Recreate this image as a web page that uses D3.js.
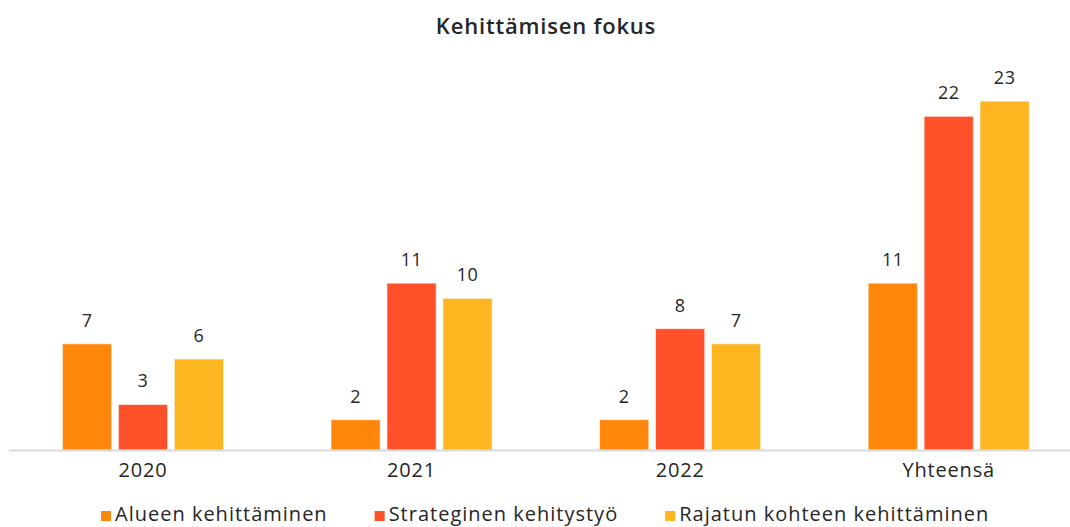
<!DOCTYPE html>
<html>
<head>
<meta charset="utf-8">
<script src="https://cdn.jsdelivr.net/npm/d3@7"></script>
<style>
  body { margin: 0; background: #fff; }
  text { font-family: "Open Sans", sans-serif; fill: #262626; }
</style>
</head>
<body>
<div id="chart"></div>
<script>
// Chart data
const categories = ['2020', '2021', '2022', 'Yhteensä'];
const seriesNames = ['Alueen kehittäminen', 'Strateginen kehitystyö', 'Rajatun kohteen kehittäminen'];
const alueen = [7, 2, 2, 11];
const strateginen = [3, 11, 8, 22];
const rajatun = [6, 10, 7, 23];
const seriesValues = [alueen, strateginen, rajatun];
const colors = ['#FF870B', '#FF5129', '#FDB61F'];

const width = 1070;
const height = 527;

const svg = d3.select('#chart')
  .append('svg')
  .attr('width', width)
  .attr('height', height);

// Title
svg.append('text')
  .attr('x', 546)
  .attr('y', 34)
  .attr('text-anchor', 'middle')
  .style('font-size', '22px')
  .style('font-weight', '600')
  .style('letter-spacing', '0.8px')
  .text('Kehittämisen fokus');

// Scales
const x0 = d3.scaleBand()
  .domain(categories)
  .range([8.7, 1083])
  .paddingInner(0.4)
  .paddingOuter(0.2);

const x1 = d3.scaleBand()
  .domain(seriesNames)
  .range([0, x0.bandwidth()])
  .paddingInner(0.12);

const y = d3.scaleLinear()
  .domain([0, 25])
  .range([450, 70.8]);

// Bars
const groups = svg.selectAll('.group')
  .data(categories)
  .enter()
  .append('g')
  .attr('class', 'group')
  .attr('transform', d => `translate(${x0(d)},0)`);

groups.selectAll('rect')
  .data((d, i) => seriesNames.map((s, j) => ({ s, j, v: seriesValues[j][i] })))
  .enter()
  .append('rect')
  .attr('x', d => x1(d.s))
  .attr('y', d => y(d.v))
  .attr('width', x1.bandwidth())
  .attr('height', d => y(0) - y(d.v))
  .attr('fill', d => colors[d.j])
  .attr('stroke', 'rgba(255,255,255,0.6)')
  .attr('stroke-width', 1);

// Value labels
groups.selectAll('.value-label')
  .data((d, i) => seriesNames.map((s, j) => ({ s, j, v: seriesValues[j][i] })))
  .enter()
  .append('text')
  .attr('class', 'value-label')
  .attr('x', d => x1(d.s) + x1.bandwidth() / 2)
  .attr('y', d => y(d.v) - 17)
  .attr('text-anchor', 'middle')
  .style('font-size', '18px')
  .style('letter-spacing', '0.5px')
  .text(d => d.v);

// X axis
const xAxis = svg.append('g')
  .attr('transform', `translate(0,${y(0)})`)
  .call(d3.axisBottom(x0).tickSize(0).tickSizeOuter(0));

xAxis.select('.domain')
  .attr('stroke', '#d9d9d9')
  .attr('stroke-width', 2);

xAxis.selectAll('text')
  .attr('dy', 0)
  .attr('y', 27)
  .style('font-size', '20px')
  .style('letter-spacing', '0.8px')
  .style('font-family', '"Open Sans", sans-serif')
  .attr('fill', '#262626');

// Legend
const legend = svg.append('g').attr('class', 'legend');
let lx = 101;
seriesNames.forEach((name, j) => {
  legend.append('rect')
    .attr('x', lx)
    .attr('y', 511)
    .attr('width', 10)
    .attr('height', 10)
    .attr('fill', colors[j]);
  const t = legend.append('text')
    .attr('x', lx + 14)
    .attr('y', 521)
    .style('font-size', '20px')
    .style('letter-spacing', '1px')
    .text(name);
  lx += 14 + t.node().getComputedTextLength() + 47;
});
</script>
</body>
</html>
